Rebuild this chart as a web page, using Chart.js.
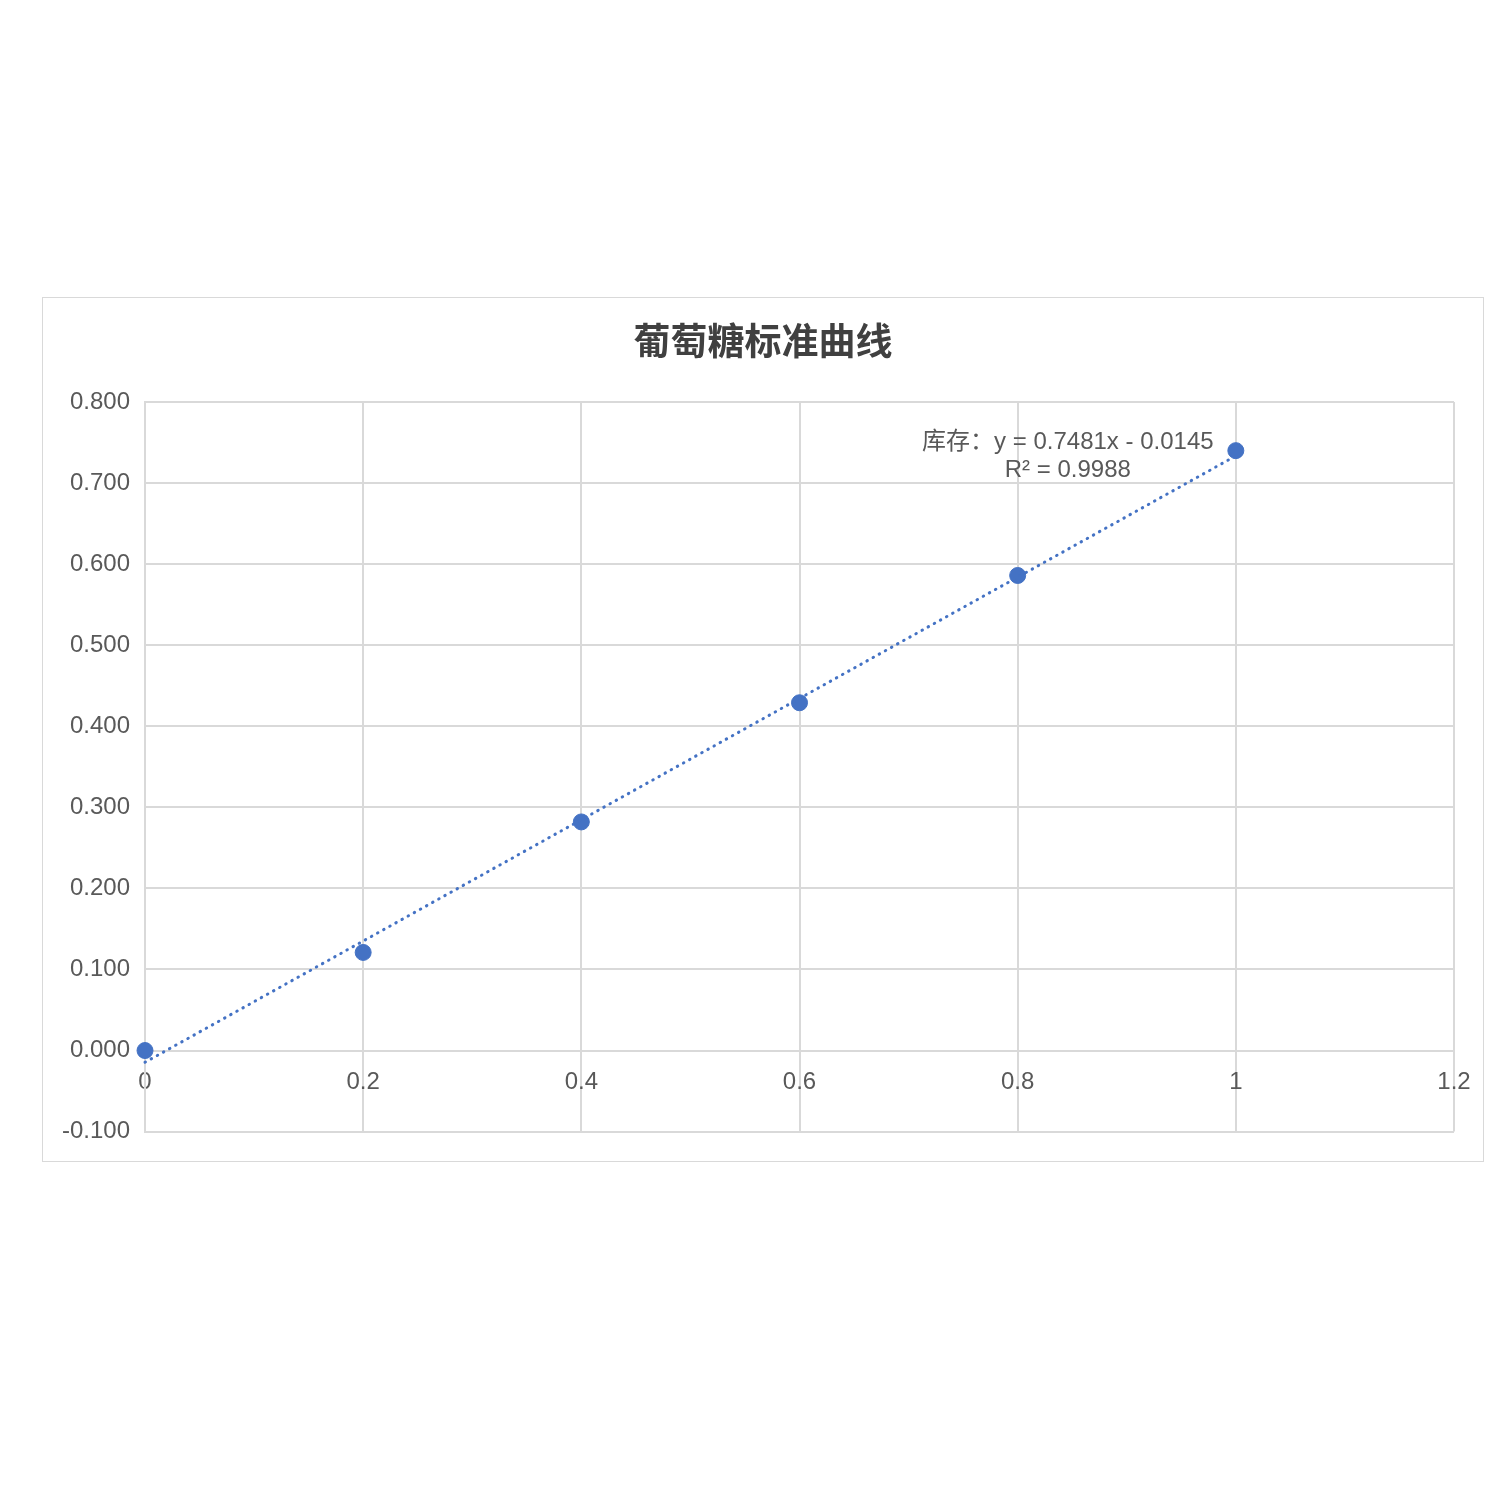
<!DOCTYPE html>
<html>
<head>
<meta charset="utf-8">
<script src="https://cdn.jsdelivr.net/npm/chart.js@4.4.1/dist/chart.umd.min.js"></script>
<style>
  html, body { margin:0; padding:0; background:#fff; }
  #box { position:absolute; left:42px; top:297px; width:1440px; height:863px; border:1px solid #d9d9d9; background:#fff; }
  #box canvas { display:block; }
</style>
</head>
<body>
<div id="box"><canvas id="chart" width="1440" height="863"></canvas></div>
<script>
// glucose concentration vs absorbance
const xValues = [0, 0.2, 0.4, 0.6, 0.8, 1];
const yValues = [0.000, 0.121, 0.282, 0.429, 0.586, 0.740];
const slope = 0.7481;
const intercept = -0.0145;
const rSquared = 0.9988;
const titleText = '葡萄糖标准曲线';
const seriesName = '库存';

const FONT = '"Liberation Sans", "Noto Sans CJK SC", sans-serif';
const BLUE = '#4472C4';
const GRID = '#d9d9d9';
const TEXT = '#595959';

const points = xValues.map((x,i)=>({ x, y:yValues[i] }));
const trend = [xValues[0], xValues[xValues.length-1]].map(x=>({ x, y: slope*x + intercept }));

// title drawn by hand so it stays centred on the whole box
const chartTitle = {
  id:'chartTitle',
  afterDraw(chart){
    const { ctx, width } = chart;
    ctx.save();
    ctx.fillStyle = '#404040';
    ctx.font = `bold 37px ${FONT}`;
    ctx.textAlign = 'center';
    ctx.textBaseline = 'middle';
    ctx.fillText(titleText, width/2, 47);
    ctx.restore();
  }
};

const trendLabel = {
  id:'trendLabel',
  afterDatasetsDraw(chart){
    const { ctx, scales:{ x, y } } = chart;
    const cx = x.getPixelForValue(1) - 168;
    const cy = y.getPixelForValue(0.8) + 40;
    ctx.save();
    ctx.fillStyle = TEXT;
    ctx.font = `24px ${FONT}`;
    ctx.textAlign = 'center';
    ctx.textBaseline = 'middle';
    ctx.fillText(`${seriesName}：y = ${slope}x - ${Math.abs(intercept)}`, cx, cy);
    ctx.fillText(`R² = ${rSquared}`, cx, cy + 28);
    ctx.restore();
  }
};

new Chart(document.getElementById('chart'), {
  type:'scatter',
  data:{
    datasets:[
      {
        label:'trend',
        data:trend,
        showLine:true,
        borderColor:BLUE,
        borderWidth:3,
        borderDash:[0.5, 6.5],
        borderCapStyle:'round',
        pointRadius:0,
        fill:false,
        clip:false
      },
      {
        label:seriesName,
        data:points,
        backgroundColor:BLUE,
        borderColor:BLUE,
        pointRadius:8,
        pointHoverRadius:8,
        clip:false
      }
    ]
  },
  options:{
    responsive:false,
    animation:false,
    layout:{ padding:{ top:104, right:29, bottom:25, left:0 } },
    plugins:{
      legend:{ display:false },
      tooltip:{ enabled:false },
      title:{ display:false }
    },
    scales:{
      x:{
        type:'linear',
        position:{ y:0 },
        min:0, max:1.2,
        afterFit(scale){ scale.paddingLeft = 0; scale.paddingRight = 0; },
        ticks:{ stepSize:0.2, color:TEXT, font:{ family:FONT, size:24 }, padding:17,
          callback:v=>String(Math.round(v*10)/10) },
        grid:{ color:GRID, lineWidth:2, drawTicks:false },
        border:{ color:GRID, width:2 }
      },
      y:{
        min:-0.1, max:0.8,
        afterFit(scale){ scale.width = 102; },
        ticks:{ stepSize:0.1, color:TEXT, font:{ family:FONT, size:24 }, padding:15,
          callback:v=>v.toFixed(3) },
        grid:{ color:GRID, lineWidth:2, drawTicks:false },
        border:{ color:GRID, width:2 }
      }
    }
  },
  plugins:[chartTitle, trendLabel]
});
</script>
</body>
</html>
